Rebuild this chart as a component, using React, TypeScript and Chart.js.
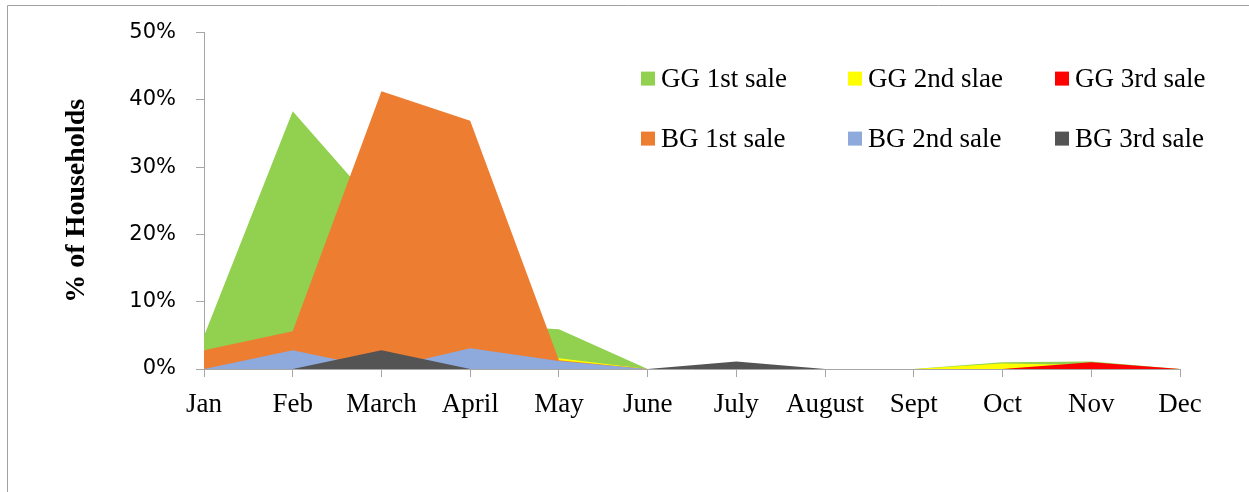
import React, { useEffect, useRef } from "react";
import { Chart, registerables } from "chart.js";

Chart.register(...registerables);

const months = ["Jan", "Feb", "March", "April", "May", "June", "July", "August", "Sept", "Oct", "Nov", "Dec"];
const seriesNames = ["GG 1st sale", "GG 2nd slae", "GG 3rd sale", "BG 1st sale", "BG 2nd sale", "BG 3rd sale"];
const seriesColors = ["#92D050", "#FFFF00", "#FF0000", "#ED7D31", "#8EA9DB", "#545454"];

const gg1st = [4.9, 38.3, 23.3, 6.7, 5.9, 0, 0, 0, 0, 1.0, 1.1, 0];
const gg2nd = [0, 0, 0, 1.0, 1.6, 0, 0, 0, 0, 0.8, 0.6, 0];
const gg3rd = [0, 0, 0, 0, 0, 0, 0, 0, 0, 0, 1.0, 0];
const bg1st = [2.8, 5.6, 41.3, 36.9, 1.3, 0, 0, 0, 0, 0, 0, 0];
const bg2nd = [0, 2.8, 0, 3.1, 1.2, 0, 0, 0, 0, 0, 0, 0];
const bg3rd = [0, 0, 2.8, 0, 0, 0, 1.1, 0, 0, 0, 0, 0];

const yTicks = [0, 10, 20, 30, 40, 50];

const serif = "'Liberation Serif', 'Times New Roman', serif";
const sans = "'DejaVu Sans', sans-serif";
const axisGray = "#A6A6A6";

const framePlugin = {
  id: "frame",
  beforeDraw(chart: any) {
    const ctx = chart.ctx;
    ctx.save();
    ctx.fillStyle = "#FFFFFF";
    ctx.fillRect(0, 0, chart.width, chart.height);
    ctx.strokeStyle = "#A0A0A0";
    ctx.lineWidth = 1;
    ctx.beginPath();
    ctx.moveTo(7.5, chart.height);
    ctx.lineTo(7.5, 5.5);
    ctx.lineTo(chart.width, 5.5);
    ctx.stroke();
    ctx.restore();
  },
};

const legendPlugin = {
  id: "gridLegend",
  afterDraw(chart: any) {
    const ctx = chart.ctx;
    const area = chart.chartArea;
    const startX = area.left + 437;
    const colW = 207;
    const startY = area.top + 46;
    const rowH = 60;
    ctx.save();
    ctx.font = `27px ${serif}`;
    ctx.textBaseline = "middle";
    ctx.textAlign = "left";
    chart.data.datasets.forEach((ds: any, i: number) => {
      const col = i % 3;
      const row = Math.floor(i / 3);
      const x = startX + col * colW;
      const y = startY + row * rowH;
      ctx.fillStyle = ds.backgroundColor;
      ctx.fillRect(x, y - 7, 14, 14);
      ctx.fillStyle = "#000000";
      ctx.fillText(ds.label, x + 20, y + 1);
    });
    ctx.restore();
  },
};

export default function App() {
  const canvasRef = useRef<HTMLCanvasElement | null>(null);

  useEffect(() => {
    if (!canvasRef.current) return;
    const seriesData = [gg1st, gg2nd, gg3rd, bg1st, bg2nd, bg3rd];
    const datasets = seriesData.map((d, i) => ({
      label: seriesNames[i],
      data: d,
      backgroundColor: seriesColors[i],
      borderColor: "rgba(0,0,0,0)",
      borderWidth: 0,
      pointRadius: 0,
      pointHoverRadius: 0,
      tension: 0,
      fill: "origin",
      order: seriesData.length - i,
    }));

    const chart = new Chart(canvasRef.current, {
      type: "line",
      data: { labels: months, datasets },
      options: {
        animation: false,
        responsive: false,
        devicePixelRatio: 1,
        layout: { padding: { left: 0, right: 69, top: 30, bottom: 0 } },
        plugins: {
          legend: { display: false },
          tooltip: { enabled: false },
        },
        scales: {
          x: {
            offset: false,
            grid: {
              display: true,
              drawOnChartArea: false,
              drawTicks: true,
              tickLength: 8,
              color: axisGray,
              offset: false,
            },
            border: { display: true, color: axisGray, width: 1 },
            ticks: {
              color: "#000000",
              font: { family: serif, size: 27 },
              padding: 12,
              maxRotation: 0,
              autoSkip: false,
            },
            afterFit(scale: any) {
              scale.height = 123;
            },
          },
          y: {
            min: 0,
            max: 50,
            afterBuildTicks(scale: any) {
              scale.ticks = yTicks.map((v) => ({ value: v }));
            },
            grid: {
              display: true,
              drawOnChartArea: false,
              drawTicks: true,
              tickLength: 8,
              color: axisGray,
            },
            border: { display: true, color: axisGray, width: 1 },
            ticks: {
              color: "#000000",
              font: { family: sans, size: 21 },
              padding: 20,
              callback: (v: any) => `${v}%`,
            },
            title: {
              display: true,
              text: "% of Households",
              color: "#000000",
              font: { family: serif, size: 28, weight: "bold" },
              padding: { top: 60, bottom: 0 },
            },
            afterFit(scale: any) {
              scale.width = 204;
            },
          },
        },
      },
      plugins: [framePlugin, legendPlugin],
    });

    return () => chart.destroy();
  }, []);

  return (
    <div style={{ position: "fixed", left: 0, top: 0, width: 1249, height: 492, background: "#fff" }}>
      <canvas ref={canvasRef} width={1249} height={492} style={{ width: 1249, height: 492, display: "block" }} />
    </div>
  );
}
